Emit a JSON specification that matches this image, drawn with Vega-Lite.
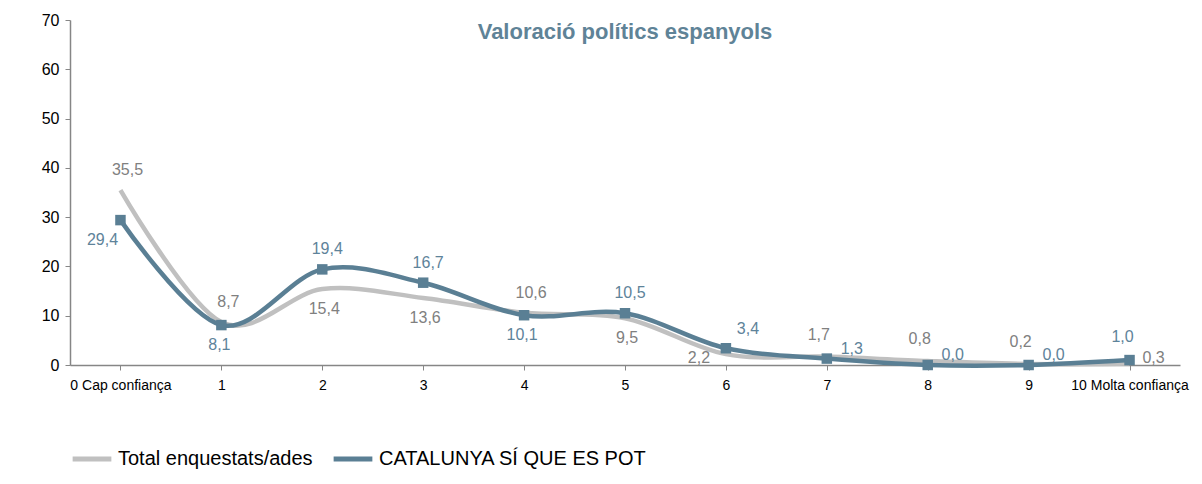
{
  "$schema": "https://vega.github.io/schema/vega-lite/v6.json",
  "autosize": "none",
  "width": 1110,
  "height": 345,
  "padding": {"left": 70, "top": 20, "right": 22, "bottom": 119},
  "background": "white",
  "config": {
    "view": {"stroke": null},
    "font": "Liberation Sans"
  },
  "title": {
    "text": "Valoració polítics  espanyols",
    "fontSize": 22,
    "fontWeight": "bold",
    "color": "#5F8397",
    "anchor": "middle",
    "offset": -32
  },
  "data": {
    "values": [
      {"score": 0, "label": "0 Cap confiança", "serie": "Total enquestats/ades", "value": 35.5},
      {"score": 1, "label": "1", "serie": "Total enquestats/ades", "value": 8.7},
      {"score": 2, "label": "2", "serie": "Total enquestats/ades", "value": 15.4},
      {"score": 3, "label": "3", "serie": "Total enquestats/ades", "value": 13.6},
      {"score": 4, "label": "4", "serie": "Total enquestats/ades", "value": 10.6},
      {"score": 5, "label": "5", "serie": "Total enquestats/ades", "value": 9.5},
      {"score": 6, "label": "6", "serie": "Total enquestats/ades", "value": 2.2},
      {"score": 7, "label": "7", "serie": "Total enquestats/ades", "value": 1.7},
      {"score": 8, "label": "8", "serie": "Total enquestats/ades", "value": 0.8},
      {"score": 9, "label": "9", "serie": "Total enquestats/ades", "value": 0.2},
      {"score": 10, "label": "10 Molta confiança", "serie": "Total enquestats/ades", "value": 0.3},
      {"score": 0, "label": "0 Cap confiança", "serie": "CATALUNYA SÍ QUE ES POT", "value": 29.4},
      {"score": 1, "label": "1", "serie": "CATALUNYA SÍ QUE ES POT", "value": 8.1},
      {"score": 2, "label": "2", "serie": "CATALUNYA SÍ QUE ES POT", "value": 19.4},
      {"score": 3, "label": "3", "serie": "CATALUNYA SÍ QUE ES POT", "value": 16.7},
      {"score": 4, "label": "4", "serie": "CATALUNYA SÍ QUE ES POT", "value": 10.1},
      {"score": 5, "label": "5", "serie": "CATALUNYA SÍ QUE ES POT", "value": 10.5},
      {"score": 6, "label": "6", "serie": "CATALUNYA SÍ QUE ES POT", "value": 3.4},
      {"score": 7, "label": "7", "serie": "CATALUNYA SÍ QUE ES POT", "value": 1.3},
      {"score": 8, "label": "8", "serie": "CATALUNYA SÍ QUE ES POT", "value": 0.0},
      {"score": 9, "label": "9", "serie": "CATALUNYA SÍ QUE ES POT", "value": 0.0},
      {"score": 10, "label": "10 Molta confiança", "serie": "CATALUNYA SÍ QUE ES POT", "value": 1.0}
    ]
  },
  "transform": [
    {"calculate": "replace(format(datum.value, '.1f'), '.', ',')", "as": "txt"}
  ],
  "encoding": {
    "x": {
      "field": "label",
      "type": "ordinal",
      "sort": ["0 Cap confiança", "1", "2", "3", "4", "5", "6", "7", "8", "9", "10 Molta confiança"],
      "title": null,
      "scale": {"paddingInner": 0, "paddingOuter": 0},
      "axis": {
        "labelAngle": 0,
        "labelFontSize": 14,
        "labelColor": "#000000",
        "labelPadding": 8,
        "domainColor": "#868686",
        "domainWidth": 1.5,
        "tickColor": "#868686",
        "tickSize": 5,
        "grid": false
      }
    },
    "y": {
      "field": "value",
      "type": "quantitative",
      "title": null,
      "scale": {"domain": [0, 70], "nice": false},
      "axis": {
        "values": [0, 10, 20, 30, 40, 50, 60, 70],
        "labelFontSize": 16,
        "labelColor": "#000000",
        "labelPadding": 6,
        "domainColor": "#868686",
        "domainWidth": 1.5,
        "tickColor": "#868686",
        "tickSize": 5,
        "grid": false
      }
    }
  },
  "layer": [
    {
      "mark": {"type": "line", "interpolate": "cardinal", "strokeWidth": 4.5},
      "encoding": {
        "color": {
          "field": "serie",
          "type": "nominal",
          "scale": {"domain": ["Total enquestats/ades", "CATALUNYA SÍ QUE ES POT"], "range": ["#C0C0C0", "#5A7F94"]},
          "legend": {
            "title": null,
            "orient": "bottom",
            "direction": "horizontal",
            "offset": 45,
            "symbolSize": 1500,
            "symbolStrokeWidth": 5,
            "labelFontSize": 20,
            "labelColor": "#000000",
            "labelLimit": 400
          }
        }
      }
    },
    {
      "transform": [{"filter": "datum.serie == 'CATALUNYA SÍ QUE ES POT'"}],
      "mark": {"type": "square", "size": 110, "color": "#5A7F94", "opacity": 1, "filled": true},
      "encoding": {}
    },
    {
      "transform": [{"filter": "datum.serie == 'Total enquestats/ades' && (datum.score == 0 || datum.score == 1 || datum.score == 4)"}],
      "mark": {"type": "text", "fontSize": 16, "color": "#808080", "dx": 7, "dy": -20},
      "encoding": {"text": {"field": "txt"}}
    },
    {
      "transform": [{"filter": "datum.serie == 'Total enquestats/ades' && datum.score >= 7 && datum.score <= 9"}],
      "mark": {"type": "text", "fontSize": 16, "color": "#808080", "dx": -8, "dy": -22},
      "encoding": {"text": {"field": "txt"}}
    },
    {
      "transform": [{"filter": "datum.serie == 'Total enquestats/ades' && (datum.score == 2 || datum.score == 3 || datum.score == 5)"}],
      "mark": {"type": "text", "fontSize": 16, "color": "#808080", "dx": 2, "dy": 20},
      "encoding": {"text": {"field": "txt"}}
    },
    {
      "transform": [{"filter": "datum.serie == 'Total enquestats/ades' && datum.score == 6"}],
      "mark": {"type": "text", "fontSize": 16, "color": "#808080", "dx": -27, "dy": 4},
      "encoding": {"text": {"field": "txt"}}
    },
    {
      "transform": [{"filter": "datum.serie == 'Total enquestats/ades' && datum.score == 10"}],
      "mark": {"type": "text", "fontSize": 16, "color": "#808080", "dx": 24, "dy": -6},
      "encoding": {"text": {"field": "txt"}}
    },
    {
      "transform": [{"filter": "datum.serie == 'CATALUNYA SÍ QUE ES POT' && datum.score == 0"}],
      "mark": {"type": "text", "fontSize": 16, "color": "#5E839A", "dx": -18, "dy": 20},
      "encoding": {"text": {"field": "txt"}}
    },
    {
      "transform": [{"filter": "datum.serie == 'CATALUNYA SÍ QUE ES POT' && (datum.score == 1 || datum.score == 4)"}],
      "mark": {"type": "text", "fontSize": 16, "color": "#5E839A", "dx": -2, "dy": 20},
      "encoding": {"text": {"field": "txt"}}
    },
    {
      "transform": [{"filter": "datum.serie == 'CATALUNYA SÍ QUE ES POT' && (datum.score == 2 || datum.score == 3 || datum.score == 5)"}],
      "mark": {"type": "text", "fontSize": 16, "color": "#5E839A", "dx": 5, "dy": -20},
      "encoding": {"text": {"field": "txt"}}
    },
    {
      "transform": [{"filter": "datum.serie == 'CATALUNYA SÍ QUE ES POT' && datum.score == 10"}],
      "mark": {"type": "text", "fontSize": 16, "color": "#5E839A", "dx": -7, "dy": -23},
      "encoding": {"text": {"field": "txt"}}
    },
    {
      "transform": [{"filter": "datum.serie == 'CATALUNYA SÍ QUE ES POT' && datum.score == 6"}],
      "mark": {"type": "text", "fontSize": 16, "color": "#5E839A", "dx": 22, "dy": -19},
      "encoding": {"text": {"field": "txt"}}
    },
    {
      "transform": [{"filter": "datum.serie == 'CATALUNYA SÍ QUE ES POT' && datum.score >= 7 && datum.score <= 9"}],
      "mark": {"type": "text", "fontSize": 16, "color": "#5E839A", "dx": 25, "dy": -10},
      "encoding": {"text": {"field": "txt"}}
    }
  ]
}
